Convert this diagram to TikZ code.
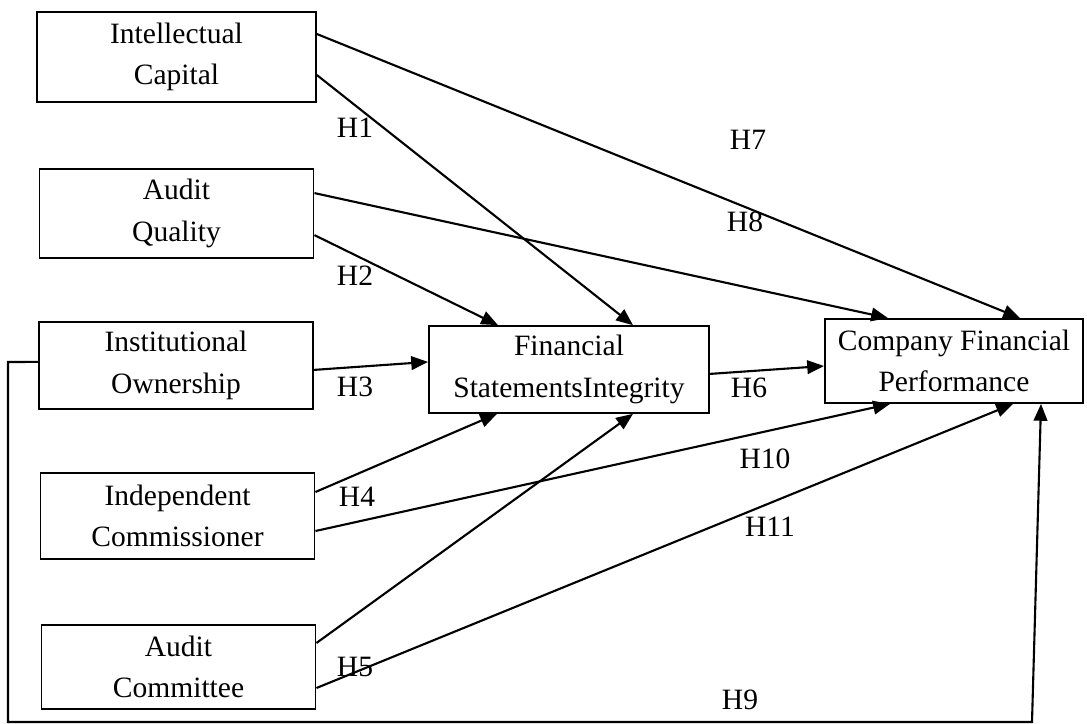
\documentclass[tikz,border=0pt]{standalone}
\usepackage{fontspec}
\setmainfont{Liberation Serif}
\usetikzlibrary{arrows.meta,positioning}
\tikzstyle{var} = [rectangle, draw=black, line width=1.3pt, minimum width=6.85cm, minimum height=2.2cm, align=center, inner sep=0pt]
\tikzstyle{arrow} = [line width=1.5pt,-{Triangle[length=0.42cm,width=0.34cm]}]
\tikzstyle{hyp} = [inner sep=0pt]

\begin{document}
\begin{tikzpicture}[x=0.025cm,y=-0.025cm,font=\fontsize{21}{29.5}\selectfont]
\useasboundingbox (0,0) rectangle (1087,724);
% independent variables
\node [var, minimum width=6.97cm, minimum height=2.25cm] (ic) at (176.5,57) {Intellectual\\Capital};
\node [var, minimum height=2.22cm] (aq) at (176.5,213.5) {Audit\\Quality};
\node [var, minimum height=2.17cm] (io) at (176,365.5) {Institutional\\Ownership};
\node [var, minimum height=2.15cm] (inc) at (177.5,516) {Independent\\Commissioner};
\node [var, minimum height=2.1cm] (ac) at (178.5,667) {Audit\\Committee};
% mediator and outcome
\node [var, minimum width=7cm, minimum height=2.17cm] (fsi) at (569,369.5) {Financial\\StatementsIntegrity};
\node [var, minimum width=6.45cm, minimum height=2.1cm] (cfp) at (954,361) {Company Financial\\Performance};

\draw [arrow] ([yshift=-0.45cm]ic.east) -- ([xshift=1.6cm]fsi.north);
\draw [arrow] ([yshift=0.575cm]ic.east) -- ([xshift=1.65cm]cfp.north);
\draw [arrow] ([yshift=-0.54cm]aq.east) -- ([xshift=-1.775cm]fsi.north);
\draw [arrow] ([yshift=0.51cm]aq.east) -- ([xshift=-1.65cm]cfp.north);
\draw [arrow] ([yshift=-0.11cm]io.east) -- ([yshift=0.19cm]fsi.west);
\draw [arrow] ([yshift=0.6cm]inc.east) -- ([xshift=-1.8cm]fsi.south);
\draw [arrow] ([yshift=-0.375cm]inc.east) -- ([xshift=-1.6cm]cfp.south);
\draw [arrow] ([yshift=0.6cm]ac.east) -- ([xshift=1.6cm]fsi.south);
\draw [arrow] ([yshift=-0.525cm]ac.east) -- ([xshift=1.475cm]cfp.south);
\draw [arrow] ([yshift=-0.11cm]fsi.east) -- ([yshift=-0.125cm]cfp.west);
% H9 path round the left and bottom
\coordinate (c1) at (8,362);
\coordinate (c2) at (8,722);
\coordinate (c3) at (1032,722);
\draw [arrow] ([yshift=0.09cm]io.west) -- (c1) -- (c2) -- (c3) -- ([xshift=2.175cm]cfp.south);

% hypothesis labels
\node [hyp] (h1) at (355,128) {H1};
\node [hyp] (h2) at (355,276) {H2};
\node [hyp] (h3) at (355,387) {H3};
\node [hyp] (h4) at (357,497) {H4};
\node [hyp] (h5) at (355,667) {H5};
\node [hyp] (h6) at (749,388) {H6};
\node [hyp] (h7) at (748,140) {H7};
\node [hyp] (h8) at (745,222) {H8};
\node [hyp] (h9) at (740,700) {H9};
\node [hyp] (h10) at (765,459) {H10};
\node [hyp] (h11) at (770,527) {H11};
\end{tikzpicture}
\end{document}
